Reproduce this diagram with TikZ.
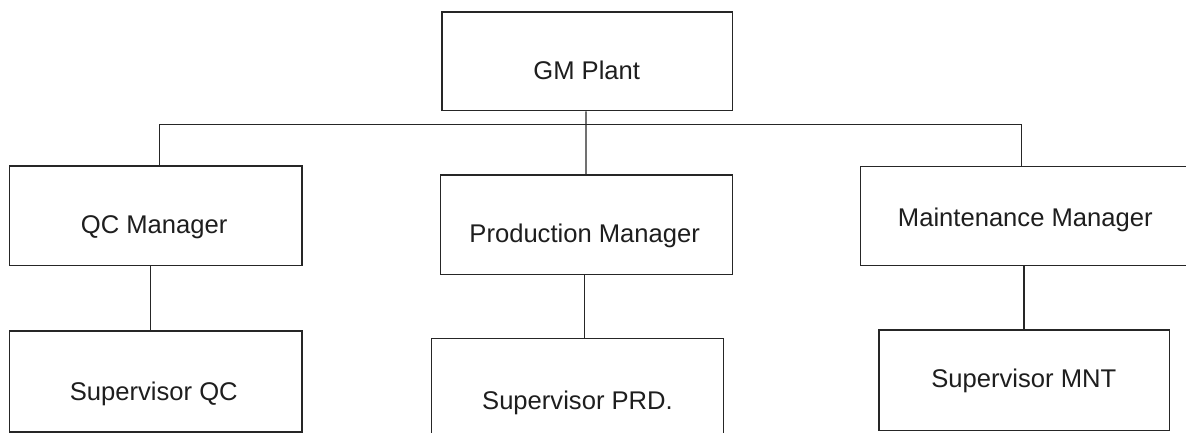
\documentclass[tikz,border=0pt]{standalone}
\usepackage{fontspec}
\setmainfont{Liberation Sans}
\usetikzlibrary{calc}
\definecolor{ink}{HTML}{262626}
\definecolor{txt}{HTML}{1E1E1E}
\begin{document}
\begin{tikzpicture}[x=1pt,y=-1pt,
  box/.style={draw=ink, line width=1.3pt, rectangle, inner sep=0pt, fill=none},
  lbl/.style={anchor=base, inner sep=0pt, text=txt, font=\fontsize{25.6}{30}\selectfont},
  link/.style={draw=ink, line width=1.2pt}]
  \useasboundingbox (0,0) rectangle (1186,433);
  \clip (0,0) rectangle (1186,433);
  \fill[white] (0,0) rectangle (1186,433);

  % boxes
  \node[box, minimum width=290.7pt, minimum height=98.7pt] (gm) at (587.35,61.35) {};
  \node[box, minimum width=292.5pt, minimum height=99.7pt] (qc) at (155.75,215.85) {};
  \node[box, minimum width=292pt, minimum height=99.7pt] (prod) at (586.7,224.85) {};
  \node[box, minimum width=329.3pt, minimum height=99pt] (mnt) at (1025.35,216) {};
  \node[box, minimum width=292.5pt, minimum height=101pt] (sqc) at (155.75,381.5) {};
  \node[box, minimum width=291.6pt, minimum height=106.3pt] (sprd) at (577.5,391.85) {};
  \node[box, minimum width=290.3pt, minimum height=100.5pt] (smnt) at (1024.15,380.25) {};

  % labels
  \node[lbl] (tgm) at (586.7,80) {GM Plant};
  \node[lbl] (tqc) at (154.2,233.3) {QC Manager};
  \node[lbl] (tprod) at (584.7,242.3) {Production Manager};
  \node[lbl] (tmnt) at (1025.3,226.7) {Maintenance Manager};
  \node[lbl] (tsqc) at (153.8,400) {Supervisor QC};
  \node[lbl] (tsprd) at (577.5,409.3) {Supervisor PRD.};
  \node[lbl] (tsmnt) at (1023.8,387.7) {Supervisor MNT};

  % bus below the plant manager
  \coordinate (busL) at (159.3,124.7);
  \coordinate (busR) at (1021.7,124.7);
  \draw[link] (busL) -- (busR);
  \draw[link] ([xshift=-1.3pt]gm.south) -- ([xshift=-0.7pt]prod.north);
  \draw[link] (busL) -- (busL |- qc.north);
  \draw[link] (busR) -- (busR |- mnt.north);

  % manager to supervisor links
  \draw[link] ([xshift=-5.4pt]qc.south) -- ([xshift=-5.4pt]qc.south |- sqc.north);
  \draw[link] ([xshift=-2.4pt]prod.south) -- ([xshift=-2.4pt]prod.south |- sprd.north);
  \draw[link] ([xshift=-1.3pt]mnt.south) -- ([xshift=-1.3pt]mnt.south |- smnt.north);
\end{tikzpicture}
\end{document}
